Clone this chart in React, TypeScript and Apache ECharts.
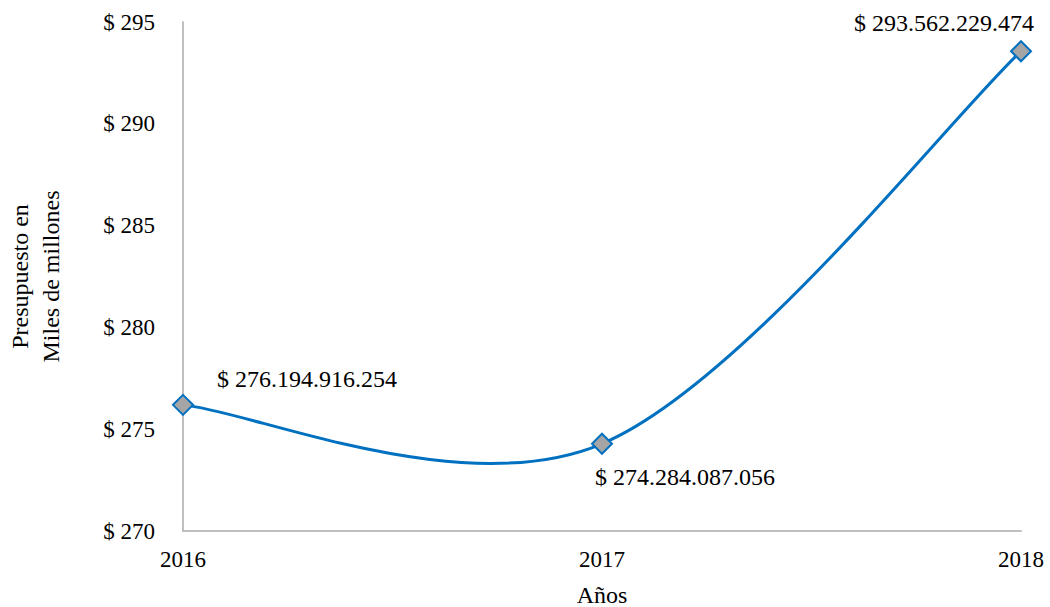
import React, { useEffect, useRef } from "react";
import * as echarts from "echarts";

const years = ["2016", "2017", "2018"];
const budget = [276.194916254, 274.284087056, 293.562229474];
const budgetLabels = ["$ 276.194.916.254", "$ 274.284.087.056", "$ 293.562.229.474"];
const labelOffsets: [number, number][] = [
  [124, -26],
  [83, 33],
  [-77, -28],
];

const FONT = "'Liberation Serif', 'Times New Roman', serif";
const FS = 23;
const FS_LABEL = 24;

export default function App() {
  const ref = useRef<HTMLDivElement>(null);
  useEffect(() => {
    document.body.style.margin = "0";
    const chart = echarts.init(ref.current!, null, { renderer: "svg" });

    // Excel-like smoothed line: Catmull-Rom style cubic Bezier segments
    const renderSegment = (params: any, api: any) => {
      const i = params.dataIndex;
      const n = budget.length;
      if (i >= n - 1) return null;
      const p = (k: number) => {
        const kk = Math.max(0, Math.min(n - 1, k));
        return api.coord([kk, budget[kk]]);
      };
      const p0 = p(i - 1);
      const p1 = p(i);
      const p2 = p(i + 1);
      const p3 = p(i + 2);
      const cp1 = [p1[0] + (p2[0] - p0[0]) / 6, p1[1] + (p2[1] - p0[1]) / 6];
      const cp2 = [p2[0] - (p3[0] - p1[0]) / 6, p2[1] - (p3[1] - p1[1]) / 6];
      return {
        type: "bezierCurve",
        shape: {
          x1: p1[0],
          y1: p1[1],
          cpx1: cp1[0],
          cpy1: cp1[1],
          cpx2: cp2[0],
          cpy2: cp2[1],
          x2: p2[0],
          y2: p2[1],
        },
        style: { stroke: "#0070C0", lineWidth: 3, fill: null },
        silent: true,
      };
    };

    chart.setOption({
      animation: false,
      backgroundColor: "#ffffff",
      textStyle: { fontFamily: FONT, color: "#000" },
      grid: {
        left: 183,
        right: 29,
        top: 22,
        bottom: 76,
        containLabel: false,
        outerBoundsMode: "none",
      },
      xAxis: {
        type: "category",
        data: years,
        boundaryGap: false,
        name: "Años",
        nameLocation: "middle",
        nameGap: 52,
        nameTextStyle: { fontFamily: FONT, fontSize: FS_LABEL, color: "#000" },
        axisLine: { lineStyle: { color: "#BFBFBF", width: 2 } },
        axisTick: { show: false },
        axisLabel: { fontFamily: FONT, fontSize: FS, color: "#000", margin: 17 },
        splitLine: { show: false },
      },
      yAxis: {
        type: "value",
        min: 270,
        max: 295,
        interval: 5,
        name: "Presupuesto en\nMiles de millones",
        nameLocation: "middle",
        nameGap: 117,
        nameRotate: 90,
        nameTextStyle: { fontFamily: FONT, fontSize: FS_LABEL, color: "#000", lineHeight: 31 },
        axisLine: { show: true, lineStyle: { color: "#BFBFBF", width: 2 } },
        axisTick: { show: false },
        axisLabel: {
          fontFamily: FONT,
          fontSize: FS,
          color: "#000",
          margin: 28,
          formatter: (v: number) => "$ " + v,
        },
        splitLine: { show: false },
      },
      series: [
        {
          type: "custom",
          renderItem: renderSegment,
          data: budget.map((v, i) => [i, v]),
          encode: { x: 0, y: 1 },
          z: 2,
          silent: true,
        },
        {
          type: "scatter",
          data: budget.map((v, i) => ({
            value: [i, v],
            label: {
              show: true,
              position: "inside",
              offset: labelOffsets[i],
              formatter: () => budgetLabels[i],
            },
          })),
          symbol: "diamond",
          symbolSize: [20, 20],
          itemStyle: { color: "#A5A5A5", borderColor: "#0070C0", borderWidth: 2, opacity: 1 },
          label: { fontFamily: FONT, fontSize: FS_LABEL, color: "#000" },
          z: 3,
        },
      ],
    });
    return () => chart.dispose();
  }, []);
  return <div ref={ref} style={{ width: 1050, height: 607 }} />;
}
